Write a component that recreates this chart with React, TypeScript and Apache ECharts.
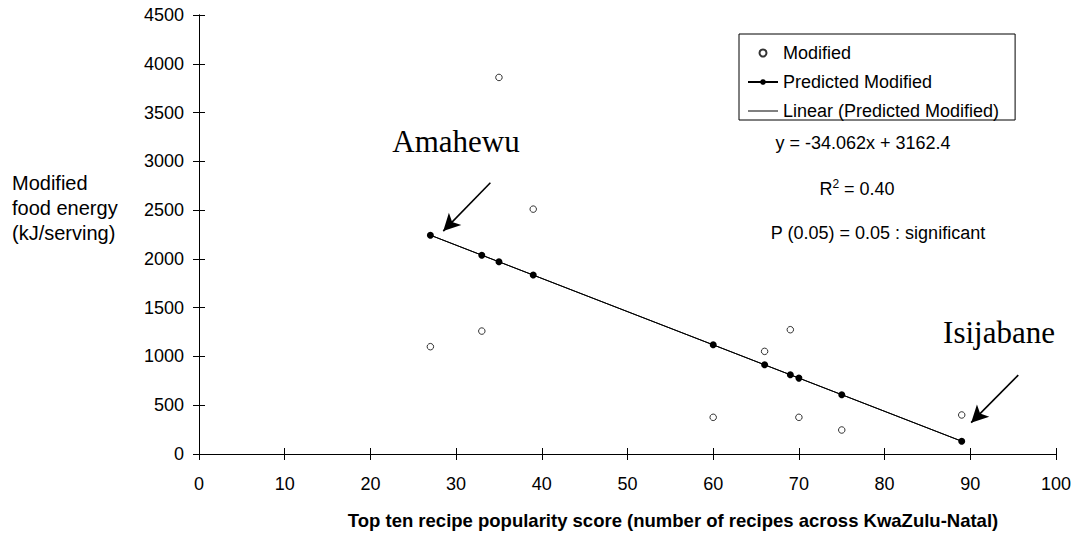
import { useEffect, useRef } from "react";
import * as echarts from "echarts";

// Data
const scoreX = [27, 33, 35, 39, 60, 66, 69, 70, 75, 89];
const modifiedEnergy = [1100, 1260, 3860, 2510, 376, 1052, 1274, 376, 246, 400];
const predictedEnergy = [2243, 2038, 1970, 1834, 1119, 914, 812, 778, 608, 131];
const trendX = [27, 89];
const trendY = [2243, 131];
const xAxisRange = [0, 100];
const xAxisStep = 10;
const yAxisRange = [0, 4500];
const yAxisStep = 500;
const seriesNames = ["Modified", "Predicted Modified", "Linear (Predicted Modified)"];
const arrowAmahewu = [
  [34.0, 2780],
  [28.5, 2285],
];
const arrowIsijabane = [
  [95.6, 809],
  [90.1, 321],
];

const SANS = "'Liberation Sans', Arial, sans-serif";
const SERIF = "'Liberation Serif', 'Times New Roman', serif";

export default function App() {
  const ref = useRef<HTMLDivElement>(null);

  useEffect(() => {
    if (!ref.current) return;
    const chart = echarts.init(ref.current, null, { renderer: "svg" });

    const baseX = {
      type: "value",
      min: xAxisRange[0],
      max: xAxisRange[1],
      interval: xAxisStep,
      splitLine: { show: false },
      axisLine: { show: true, onZero: false, lineStyle: { color: "#000", width: 1 } },
    };
    const baseY = {
      type: "value",
      min: yAxisRange[0],
      max: yAxisRange[1],
      interval: yAxisStep,
      splitLine: { show: false },
      axisLine: { show: true, onZero: false, lineStyle: { color: "#000", width: 1 } },
    };

    const option: any = {
      animation: false,
      backgroundColor: "#fff",
      textStyle: { fontFamily: SANS },
      grid: { left: 199, right: 17, top: 15, bottom: 79, containLabel: false },
      xAxis: [
        {
          ...baseX,
          position: "bottom",
          axisTick: { show: true, inside: false, length: 6, lineStyle: { color: "#000" } },
          axisLabel: {
            color: "#000",
            fontSize: 18,
            fontFamily: SANS,
            margin: 21,
            formatter: (v: number) => String(v),
          },
        },
        {
          ...baseX,
          position: "bottom",
          axisTick: { show: true, inside: true, length: 6, lineStyle: { color: "#000" } },
          axisLabel: { show: false },
        },
      ],
      yAxis: [
        {
          ...baseY,
          position: "left",
          axisTick: { show: true, inside: false, length: 6, lineStyle: { color: "#000" } },
          axisLabel: {
            color: "#000",
            fontSize: 18,
            fontFamily: SANS,
            margin: 15,
            formatter: (v: number) => String(v),
          },
        },
        {
          ...baseY,
          position: "left",
          axisTick: { show: true, inside: true, length: 6, lineStyle: { color: "#000" } },
          axisLabel: { show: false },
        },
      ],
      legend: {
        orient: "vertical",
        left: 739,
        top: 34,
        data: [
          { name: seriesNames[0] },
          { name: seriesNames[1] },
          { name: seriesNames[2], icon: "path://M0,0L30,0L30,1L0,1Z" },
        ],
        borderColor: "#000",
        borderWidth: 1,
        borderRadius: 0,
        padding: [10, 16, 0, 8],
        itemWidth: 30,
        itemHeight: 7,
        itemGap: 11,
        textStyle: { color: "#000", fontSize: 18, fontFamily: SANS },
        selectedMode: false,
      },
      series: [
        {
          name: seriesNames[0],
          type: "scatter",
          data: scoreX.map((x, i) => [x, modifiedEnergy[i]]),
          symbol: "circle",
          symbolSize: 6.5,
          itemStyle: { color: "#fff", borderColor: "#000", borderWidth: 1 },
          z: 4,
        },
        {
          name: seriesNames[1],
          type: "line",
          data: scoreX.map((x, i) => [x, predictedEnergy[i]]),
          symbol: "circle",
          symbolSize: 7,
          showSymbol: true,
          itemStyle: { color: "#000", borderWidth: 0 },
          lineStyle: { color: "#000", width: 1 },
          z: 3,
        },
        {
          name: seriesNames[2],
          type: "line",
          data: trendX.map((x, i) => [x, trendY[i]]),
          symbol: "none",
          itemStyle: { color: "#000" },
          lineStyle: { color: "#000", width: 1 },
          z: 2,
          markLine: {
            silent: true,
            symbol: ["none", "arrow"],
            symbolSize: [13, 17],
            label: { show: false },
            lineStyle: { color: "#000", width: 1.6, type: "solid" },
            itemStyle: { color: "#000" },
            data: [
              [{ coord: arrowAmahewu[0] }, { coord: arrowAmahewu[1] }],
              [{ coord: arrowIsijabane[0] }, { coord: arrowIsijabane[1] }],
            ],
          },
        },
      ],
      graphic: [
        {
          type: "text",
          left: 12,
          top: 170,
          style: {
            text: "Modified\nfood energy\n(kJ/serving)",
            fill: "#000",
            font: `20px ${SANS}`,
            lineHeight: 25,
          },
        },
        {
          type: "text",
          x: 673,
          y: 520,
          style: {
            text: "Top ten recipe popularity score (number of recipes across KwaZulu-Natal)",
            fill: "#000",
            font: `bold 18.5px ${SANS}`,
            align: "center",
            verticalAlign: "middle",
          },
        },
        {
          type: "text",
          x: 863,
          y: 143,
          style: {
            text: "y = -34.062x + 3162.4",
            fill: "#000",
            font: `18px ${SANS}`,
            align: "center",
            verticalAlign: "middle",
          },
        },
        {
          type: "text",
          x: 857,
          y: 188,
          style: {
            text: "{a|R}{s|2}{a| = 0.40}",
            fill: "#000",
            align: "center",
            verticalAlign: "middle",
            rich: {
              a: { fontSize: 18, fontFamily: SANS, fill: "#000", verticalAlign: "bottom" },
              s: { fontSize: 12, fontFamily: SANS, fill: "#000", verticalAlign: "top", padding: [0, 0, 8, 0] },
            },
          },
        },
        {
          type: "text",
          x: 878,
          y: 233,
          style: {
            text: "P (0.05) = 0.05 : significant",
            fill: "#000",
            font: `18px ${SANS}`,
            align: "center",
            verticalAlign: "middle",
          },
        },
        {
          type: "text",
          x: 456,
          y: 141,
          style: {
            text: "Amahewu",
            fill: "#000",
            font: `31px ${SERIF}`,
            align: "center",
            verticalAlign: "middle",
          },
        },
        {
          type: "text",
          x: 999,
          y: 332,
          style: {
            text: "Isijabane",
            fill: "#000",
            font: `31px ${SERIF}`,
            align: "center",
            verticalAlign: "middle",
          },
        },
      ],
    };

    chart.setOption(option);
    return () => chart.dispose();
  }, []);

  return (
    <div
      ref={ref}
      style={{ position: "absolute", left: 0, top: 0, width: 1074, height: 533, background: "#fff" }}
    />
  );
}
